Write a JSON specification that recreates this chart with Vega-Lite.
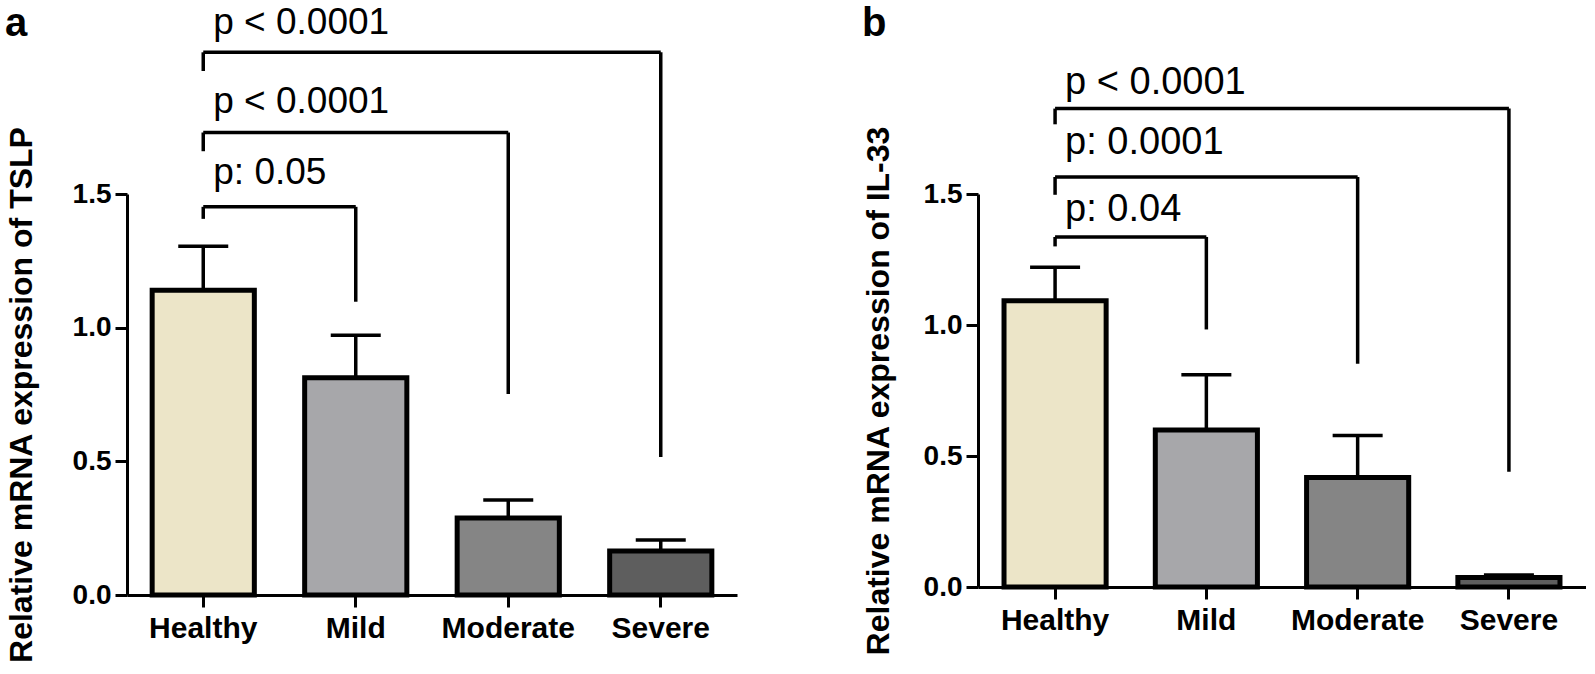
{
  "$schema": "https://vega.github.io/schema/vega-lite/v6.json",
  "background": "white",
  "padding": {"left": 5, "top": 3, "right": 0, "bottom": 0},
  "autosize": {"type": "pad"},
  "spacing": 125,
  "align": "none",
  "bounds": "full",
  "config": {
    "font": "Liberation Sans",
    "view": {"stroke": null},
    "axis": {"domainColor": "black", "tickColor": "black", "labelColor": "black", "titleColor": "black", "domainWidth": 3, "tickWidth": 3, "tickSize": 12, "grid": false},
    "title": {"color": "black"}
  },
  "datasets": {
    "barsA": [
      {"group": "Healthy", "mean": 1.14, "err": 1.305},
      {"group": "Mild", "mean": 0.813, "err": 0.972},
      {"group": "Moderate", "mean": 0.288, "err": 0.355},
      {"group": "Severe", "mean": 0.165, "err": 0.206}
    ],
    "barsB": [
      {"group": "Healthy", "mean": 1.093, "err": 1.22},
      {"group": "Mild", "mean": 0.599, "err": 0.81},
      {"group": "Moderate", "mean": 0.418, "err": 0.578},
      {"group": "Severe", "mean": 0.036, "err": 0.046}
    ],
    "bracketsA": [
      {"from": "Healthy", "to": "Severe", "top": 2.03, "leftEnd": 1.96, "rightEnd": 0.516, "label": "p < 0.0001", "labelY": 2.099},
      {"from": "Healthy", "to": "Moderate", "top": 1.73, "leftEnd": 1.66, "rightEnd": 0.752, "label": "p < 0.0001", "labelY": 1.803},
      {"from": "Healthy", "to": "Mild", "top": 1.452, "leftEnd": 1.407, "rightEnd": 1.097, "label": "p: 0.05", "labelY": 1.538}
    ],
    "bracketsB": [
      {"from": "Healthy", "to": "Severe", "top": 1.826, "leftEnd": 1.766, "rightEnd": 0.44, "label": "p < 0.0001", "labelY": 1.882},
      {"from": "Healthy", "to": "Moderate", "top": 1.565, "leftEnd": 1.497, "rightEnd": 0.852, "label": "p: 0.0001", "labelY": 1.654},
      {"from": "Healthy", "to": "Mild", "top": 1.336, "leftEnd": 1.3, "rightEnd": 0.983, "label": "p: 0.04", "labelY": 1.396}
    ]
  },
  "hconcat": [
    {
      "title": {"text": "a", "anchor": "start", "frame": "bounds", "fontSize": 40, "fontWeight": "bold", "offset": -40},
      "width": 610,
      "height": 401,
      "layer": [
        {
          "data": {"name": "barsA"},
          "mark": {"type": "bar", "stroke": "black", "strokeWidth": 5},
          "encoding": {
            "x": {"field": "group", "type": "nominal", "scale": {"domain": ["Healthy", "Mild", "Moderate", "Severe"], "paddingInner": 0.33, "paddingOuter": 0.165},
              "axis": {"title": null, "labelAngle": 0, "labelFontSize": 30, "labelFontWeight": "bold", "labelPadding": 6}},
            "y": {"field": "mean", "type": "quantitative", "scale": {"domain": [0, 1.5], "nice": false},
              "axis": {"title": "Relative mRNA expression of TSLP", "values": [0, 0.5, 1, 1.5], "format": ".1f", "labelFontSize": 28, "labelFontWeight": "bold", "labelPadding": 4, "titleFontSize": 32, "titleFontWeight": "bold", "titlePadding": 34}},
            "fill": {"field": "group", "type": "nominal", "scale": {"domain": ["Healthy", "Mild", "Moderate", "Severe"], "range": ["#ECE5C8", "#A7A7AA", "#858585", "#5E5E5E"]}, "legend": null}
          }
        },
        {
          "data": {"name": "barsA"},
          "mark": {"type": "rule", "color": "black", "strokeWidth": 3.5},
          "encoding": {
            "x": {"field": "group", "type": "nominal"},
            "y": {"field": "mean", "type": "quantitative"},
            "y2": {"field": "err"}
          }
        },
        {
          "data": {"name": "barsA"},
          "mark": {"type": "tick", "color": "black", "opacity": 1, "thickness": 3.5, "size": 50},
          "encoding": {
            "x": {"field": "group", "type": "nominal"},
            "y": {"field": "err", "type": "quantitative"}
          }
        },
        {
          "data": {"name": "bracketsA"},
          "mark": {"type": "rule", "color": "black", "strokeWidth": 3.5},
          "encoding": {
            "x": {"field": "from", "type": "nominal"},
            "x2": {"field": "to"},
            "y": {"field": "top", "type": "quantitative"}
          }
        },
        {
          "data": {"name": "bracketsA"},
          "mark": {"type": "rule", "color": "black", "strokeWidth": 3.5},
          "encoding": {
            "x": {"field": "from", "type": "nominal"},
            "y": {"field": "top", "type": "quantitative"},
            "y2": {"field": "leftEnd"}
          }
        },
        {
          "data": {"name": "bracketsA"},
          "mark": {"type": "rule", "color": "black", "strokeWidth": 3.5},
          "encoding": {
            "x": {"field": "to", "type": "nominal"},
            "y": {"field": "top", "type": "quantitative"},
            "y2": {"field": "rightEnd"}
          }
        },
        {
          "data": {"name": "bracketsA"},
          "mark": {"type": "text", "align": "left", "baseline": "alphabetic", "dx": 10, "fontSize": 37, "color": "black"},
          "encoding": {
            "x": {"field": "from", "type": "nominal"},
            "y": {"field": "labelY", "type": "quantitative"},
            "text": {"field": "label"}
          }
        }
      ]
    },
    {
      "title": {"text": "b", "anchor": "start", "frame": "bounds", "fontSize": 40, "fontWeight": "bold", "offset": 20},
      "width": 608,
      "height": 393,
      "layer": [
        {
          "data": {"name": "barsB"},
          "mark": {"type": "bar", "stroke": "black", "strokeWidth": 5},
          "encoding": {
            "x": {"field": "group", "type": "nominal", "scale": {"domain": ["Healthy", "Mild", "Moderate", "Severe"], "paddingInner": 0.325, "paddingOuter": 0.172},
              "axis": {"title": null, "labelAngle": 0, "labelFontSize": 30, "labelFontWeight": "bold", "labelPadding": 6}},
            "y": {"field": "mean", "type": "quantitative", "scale": {"domain": [0, 1.5], "nice": false},
              "axis": {"title": "Relative mRNA expression of IL-33", "values": [0, 0.5, 1, 1.5], "format": ".1f", "labelFontSize": 28, "labelFontWeight": "bold", "labelPadding": 4, "titleFontSize": 32, "titleFontWeight": "bold", "titlePadding": 28}},
            "fill": {"field": "group", "type": "nominal", "scale": {"domain": ["Healthy", "Mild", "Moderate", "Severe"], "range": ["#ECE5C8", "#A7A7AA", "#858585", "#5E5E5E"]}, "legend": null}
          }
        },
        {
          "data": {"name": "barsB"},
          "mark": {"type": "rule", "color": "black", "strokeWidth": 3.5},
          "encoding": {
            "x": {"field": "group", "type": "nominal"},
            "y": {"field": "mean", "type": "quantitative"},
            "y2": {"field": "err"}
          }
        },
        {
          "data": {"name": "barsB"},
          "mark": {"type": "tick", "color": "black", "opacity": 1, "thickness": 3.5, "size": 50},
          "encoding": {
            "x": {"field": "group", "type": "nominal"},
            "y": {"field": "err", "type": "quantitative"}
          }
        },
        {
          "data": {"name": "bracketsB"},
          "mark": {"type": "rule", "color": "black", "strokeWidth": 3.5},
          "encoding": {
            "x": {"field": "from", "type": "nominal"},
            "x2": {"field": "to"},
            "y": {"field": "top", "type": "quantitative"}
          }
        },
        {
          "data": {"name": "bracketsB"},
          "mark": {"type": "rule", "color": "black", "strokeWidth": 3.5},
          "encoding": {
            "x": {"field": "from", "type": "nominal"},
            "y": {"field": "top", "type": "quantitative"},
            "y2": {"field": "leftEnd"}
          }
        },
        {
          "data": {"name": "bracketsB"},
          "mark": {"type": "rule", "color": "black", "strokeWidth": 3.5},
          "encoding": {
            "x": {"field": "to", "type": "nominal"},
            "y": {"field": "top", "type": "quantitative"},
            "y2": {"field": "rightEnd"}
          }
        },
        {
          "data": {"name": "bracketsB"},
          "mark": {"type": "text", "align": "left", "baseline": "alphabetic", "dx": 10, "fontSize": 38, "color": "black"},
          "encoding": {
            "x": {"field": "from", "type": "nominal"},
            "y": {"field": "labelY", "type": "quantitative"},
            "text": {"field": "label"}
          }
        }
      ]
    }
  ],
  "resolve": {"scale": {"fill": "shared"}}
}
